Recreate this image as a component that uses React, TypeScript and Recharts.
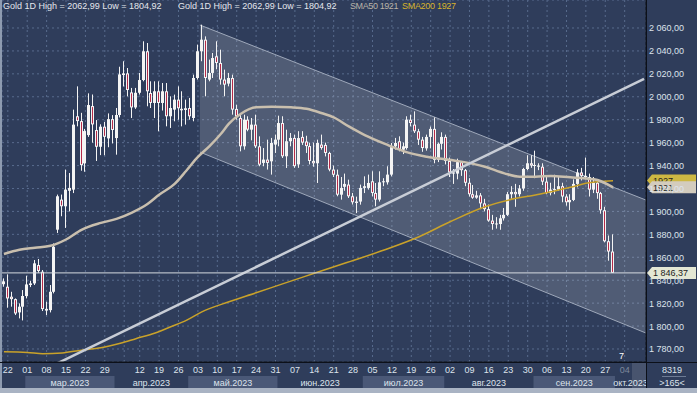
import React from "react";
import {
  ComposedChart,
  Bar,
  Line,
  XAxis,
  YAxis,
  CartesianGrid,
  ReferenceLine,
  ReferenceArea,
} from "recharts";

// ---- canvas ----
const W = 697;
const H = 393;
const FONT = "'Liberation Sans', Arial, sans-serif";
const BG = "#2f3d5b";
const GRID = "#586b8d";
const TEXT = "#dde3ec";
const AXIS_LINE = "#0c1019";
const UP = "#f4f4f4";
const DOWN = "#b52a48";

// ---- calendar ----
const FIRST_DAY = "2023-02-21";
const LAST_TRADED = "2023-09-29";
const AXIS_END = "2023-10-11";
const HOLIDAYS = ["2023-04-07"];
const LAST_DAY_TICK = "2023-10-04";
const HIDDEN_DAY_LABELS = ["2023-04-05"];
const MONTH_LABELS = ["мар.2023", "апр.2023", "май.2023", "июн.2023", "июл.2023", "авг.2023", "сен.2023", "окт.2023"];
const MONTH_SHADED = [true, false, true, false, true, false, true, false];

// ---- prices (one line per week) ----
const OPEN = [
  1836.5, 1834.3, 1825.6, 1823.5,
  1811.9, 1816.9, 1826.2, 1835.8, 1837.2,
  1853.2, 1847.4, 1815.0, 1813.9, 1829.9,
  1884.1, 1910.3, 1904.5, 1918.0, 1919.0,
  1983.0, 1978.8, 1941.9, 1966.6, 1991.9,
  1971.0, 1956.4, 1973.9, 1963.7, 1980.5,
  1964.0, 1984.1, 2019.0, 2020.4,
  2003.8, 1990.7, 2003.5, 2014.6, 2039.7,
  2003.3, 1994.6, 2004.8, 1994.6, 2004.8,
  1983.0, 1988.8, 1997.5, 1989.5, 1990.0,
  1990.2, 1981.5, 2016.4, 2039.7, 2049.8,
  2015.0, 2020.8, 2035.3, 2029.5, 2015.0,
  2011.5, 2016.4, 1989.4, 1981.5, 1956.8,
  1980.0, 1971.3, 1975.7, 1956.8, 1942.3,
  1945.2, 1943.7, 1958.3, 1962.6, 1977.1,
  1948.1, 1961.2, 1964.1, 1941.0, 1965.0,
  1961.0, 1957.0, 1944.0, 1942.0, 1958.3,
  1958.0, 1951.0, 1936.5, 1932.0, 1914.6,
  1921.5, 1923.4, 1913.2, 1908.6, 1908.6,
  1920.5, 1920.5, 1926.3, 1916.1, 1910.3,
  1925.4, 1925.4, 1932.1, 1956.8, 1961.2,
  1953.9, 1955.3, 1980.0, 1975.7, 1969.9,
  1962.6, 1955.0, 1965.0, 1972.0, 1945.0,
  1959.0, 1965.0, 1944.0, 1934.0, 1933.0,
  1943.0, 1936.0, 1925.0, 1915.0, 1912.0,
  1914.0, 1907.0, 1902.0, 1892.0, 1889.0,
  1889.0, 1894.0, 1897.0, 1915.0, 1917.0,
  1915.0, 1920.0, 1937.0, 1942.0, 1940.0,
  1940.0, 1939.0, 1926.0, 1916.0, 1919.0,
  1919.0, 1922.0, 1913.0, 1908.0, 1910.0,
  1924.0, 1934.0, 1931.0, 1930.0, 1919.0,
  1925.0, 1916.0, 1901.0, 1874.0, 1865.0,
];
const HIGH = [
  1841.6, 1845.1, 1829.9, 1824.1,
  1819.8, 1831.4, 1843.9, 1839.5, 1857.6,
  1858.5, 1848.9, 1821.2, 1835.8, 1872.1,
  1914.7, 1914.7, 1936.5, 1933.5, 1988.8,
  2009.1, 1986.0, 1972.0, 2003.0, 2002.0,
  1979.7, 1976.0, 1978.0, 1985.5, 1984.0,
  1990.2, 2026.2, 2031.0, 2025.1,
  2007.7, 2007.7, 2020.8, 2048.4, 2046.9,
  2013.5, 2013.5, 2013.5, 2012.0, 2012.0,
  2000.4, 2001.9, 2009.1, 2004.8, 1997.5,
  1999.0, 2019.3, 2045.5, 2062.9, 2052.7,
  2032.4, 2038.2, 2048.4, 2041.1, 2023.7,
  2020.8, 2019.3, 1993.1, 1984.4, 1984.4,
  1983.0, 1981.5, 1984.4, 1965.5, 1955.3,
  1962.6, 1964.1, 1967.0, 1983.5, 1983.0,
  1971.3, 1968.4, 1967.0, 1970.0, 1970.0,
  1966.0, 1960.0, 1960.0, 1962.6, 1967.0,
  1960.0, 1952.0, 1940.0, 1936.5, 1930.0,
  1933.0, 1927.7, 1916.1, 1912.9, 1923.4,
  1930.6, 1932.1, 1935.0, 1924.8, 1935.0,
  1929.0, 1939.4, 1959.7, 1964.1, 1965.5,
  1960.0, 1983.0, 1984.4, 1987.3, 1972.0,
  1965.0, 1967.0, 1974.0, 1982.0, 1960.0,
  1969.0, 1967.0, 1947.0, 1937.0, 1946.0,
  1944.0, 1937.0, 1929.0, 1923.0, 1918.0,
  1916.0, 1911.0, 1906.0, 1897.0, 1895.0,
  1897.0, 1903.0, 1917.0, 1922.0, 1924.0,
  1923.0, 1938.0, 1949.0, 1949.0, 1953.0,
  1942.0, 1942.0, 1930.0, 1925.0, 1932.0,
  1930.0, 1925.0, 1915.0, 1915.0, 1928.0,
  1937.0, 1938.0, 1947.0, 1933.0, 1930.0,
  1926.0, 1917.0, 1904.0, 1879.0, 1880.0,
];
const LOW = [
  1834.3, 1816.0, 1816.9, 1809.6,
  1806.7, 1804.9, 1824.1, 1834.0, 1835.8,
  1846.5, 1813.1, 1809.6, 1811.9, 1828.5,
  1881.2, 1895.8, 1885.6, 1900.0, 1916.0,
  1974.2, 1935.5, 1934.6, 1965.0, 1960.0,
  1944.0, 1949.1, 1949.0, 1956.0, 1959.3,
  1949.5, 1982.0, 2009.0, 2000.4,
  1981.5, 1989.4, 2001.9, 2013.5, 1991.7,
  1990.2, 1981.5, 1969.9, 1988.0, 1974.2,
  1972.8, 1978.6, 1980.0, 1974.2, 1975.7,
  1980.0, 1978.6, 2015.0, 2031.0, 2000.4,
  2013.5, 2016.4, 2024.0, 2010.6, 2000.4,
  2009.1, 1984.4, 1980.0, 1952.4, 1953.9,
  1969.9, 1962.0, 1955.3, 1939.4, 1939.4,
  1936.5, 1932.1, 1951.0, 1956.8, 1946.6,
  1937.9, 1956.8, 1938.0, 1938.0, 1958.0,
  1951.0, 1941.0, 1939.0, 1924.8, 1953.9,
  1948.0, 1935.0, 1930.0, 1913.2, 1910.3,
  1918.0, 1911.7, 1906.0, 1898.5, 1905.9,
  1916.0, 1919.0, 1913.2, 1904.5, 1908.6,
  1922.0, 1923.4, 1930.6, 1953.9, 1952.4,
  1950.0, 1953.9, 1974.2, 1968.4, 1958.0,
  1952.0, 1953.0, 1955.0, 1942.0, 1943.0,
  1954.0, 1941.0, 1930.0, 1924.0, 1928.0,
  1931.0, 1922.0, 1913.0, 1911.0, 1911.0,
  1902.0, 1900.0, 1891.0, 1884.0, 1885.0,
  1884.0, 1892.0, 1896.0, 1911.0, 1904.0,
  1913.0, 1918.0, 1936.0, 1938.0, 1929.0,
  1936.0, 1923.0, 1915.0, 1914.0, 1915.0,
  1918.0, 1908.0, 1905.0, 1901.0, 1909.0,
  1921.0, 1927.0, 1928.0, 1913.0, 1916.0,
  1911.0, 1898.0, 1873.0, 1857.0, 1846.4,
];
const CLOSE = [
  1839.0, 1824.1, 1823.5, 1811.0,
  1816.9, 1826.2, 1836.3, 1837.2, 1854.7,
  1848.0, 1814.8, 1813.5, 1829.9, 1869.2,
  1913.2, 1904.5, 1919.0, 1920.5, 1975.7,
  1978.8, 1940.4, 1970.1, 1992.8, 1975.9,
  1956.4, 1973.9, 1965.1, 1980.5, 1971.0,
  1984.1, 2019.5, 2020.4, 2005.9,
  1990.7, 2003.5, 2014.6, 2039.7, 2004.8,
  1994.6, 2004.8, 1994.6, 2004.8, 1983.0,
  1990.2, 1997.5, 1990.0, 1988.2, 1988.5,
  1983.0, 2016.4, 2039.7, 2049.8, 2016.4,
  2020.8, 2033.8, 2029.5, 2015.0, 2010.6,
  2016.4, 1988.8, 1983.0, 1956.8, 1980.0,
  1971.3, 1975.7, 1956.8, 1940.8, 1945.2,
  1942.3, 1959.7, 1962.6, 1977.1, 1948.1,
  1961.2, 1964.1, 1939.5, 1964.0, 1960.0,
  1957.0, 1944.0, 1942.0, 1959.7, 1955.4,
  1951.0, 1936.5, 1932.0, 1914.6, 1920.5,
  1924.0, 1913.2, 1908.0, 1907.4, 1920.5,
  1922.0, 1924.8, 1916.1, 1910.3, 1925.4,
  1926.3, 1932.1, 1956.8, 1959.7, 1953.9,
  1956.8, 1980.0, 1977.1, 1969.9, 1962.6,
  1955.3, 1965.0, 1972.0, 1945.0, 1959.0,
  1965.0, 1944.0, 1934.0, 1933.0, 1943.0,
  1936.0, 1925.0, 1915.0, 1912.0, 1914.0,
  1907.0, 1902.0, 1892.0, 1889.0, 1889.5,
  1894.0, 1897.0, 1915.0, 1917.0, 1915.0,
  1920.0, 1937.0, 1942.0, 1940.0, 1940.5,
  1939.0, 1926.0, 1916.0, 1919.0, 1919.5,
  1922.0, 1913.0, 1908.0, 1910.0, 1924.0,
  1934.0, 1931.0, 1930.0, 1919.0, 1925.0,
  1916.0, 1901.0, 1874.0, 1865.0, 1846.4,
];

// moving averages at these candle indices
const SMA50_AT = [0, 4, 8, 12, 16, 20, 25, 29, 33, 37, 40, 44, 47, 50, 53, 56, 58, 61, 65, 69, 74, 78, 82, 85, 89, 93, 99, 104, 109, 116, 124, 129, 133, 137, 141, 146, 150, 153, 157];
const SMA50 = [1862.9, 1866.5, 1868.3, 1870, 1875.5, 1884, 1890, 1893.5, 1899, 1906.5, 1914.5, 1924, 1935.5, 1947.5, 1957, 1968, 1976.6, 1985, 1990.8, 1991.3, 1990.8, 1989.5, 1985.6, 1982, 1973.9, 1966.6, 1957.9, 1951.5, 1947.7, 1944.5, 1939, 1933.2, 1930.3, 1930.3, 1930.9, 1929.7, 1928.8, 1927.4, 1921];
const SMA200_AT = [0, 6, 10, 15, 20, 25, 30, 34, 39, 43, 47, 51, 58, 65, 72, 80, 88, 98, 107, 115, 124, 132, 137, 141, 146, 150, 157];
const SMA200 = [1777.5, 1777, 1775.8, 1776.5, 1779, 1781, 1785, 1789, 1794, 1799.4, 1805, 1812.4, 1821.2, 1829, 1837, 1846, 1855, 1866.3, 1877.9, 1891, 1904.1, 1911.4, 1914.3, 1917.2, 1921, 1924.5, 1926.8];

const LAST_PRICE = 1846.37;
const SMA50_LAST = 1921;
const SMA200_LAST = 1927;

// drawn channel (from the May 4 top to the right edge)
const CH_START = 51;
const CH_TOP_LEFT = 2062.6;
const CH_TOP_RIGHT = 1909.9;
const CH_BOTTOM_LEFT = 1951.8;
const CH_BOTTOM_RIGHT = 1793.9;
// drawn rising trend line
const TREND_FROM = { i: 10, price: 1761.3 };
const TREND_TO = { i: 165, price: 2015.6 };

const Y_MIN = 1768.65;
const Y_MAX = 2084.42;
const PRICE_TICKS = [1780, 1800, 1820, 1840, 1860, 1880, 1900, 1920, 1940, 1960, 1980, 2000, 2020, 2040, 2060];

function buildDays(): string[] {
  const out: string[] = [];
  const d = new Date(FIRST_DAY + "T00:00:00Z");
  const end = new Date(AXIS_END + "T00:00:00Z").getTime();
  while (d.getTime() <= end) {
    const wd = d.getUTCDay();
    const key = d.toISOString().slice(0, 10);
    if (wd !== 0 && wd !== 6 && !HOLIDAYS.includes(key)) out.push(key);
    d.setUTCDate(d.getUTCDate() + 1);
  }
  return out;
}

const DAYS = buildDays();
const PLOT_W = W - 2 - 51;
const BAND = PLOT_W / DAYS.length;

const rows = DAYS.map((d, i) => {
  const row: any = { d };
  if (d <= LAST_TRADED && i < OPEN.length) {
    row.open = OPEN[i];
    row.high = HIGH[i];
    row.low = LOW[i];
    row.close = CLOSE[i];
    row.range = [LOW[i], HIGH[i]];
  }
  const a = SMA50_AT.indexOf(i);
  if (a >= 0) row.sma50 = SMA50[a];
  const b = SMA200_AT.indexOf(i);
  if (b >= 0) row.sma200 = SMA200[b];
  return row;
});

const dayTicks = DAYS.filter(
  (d) => new Date(d + "T00:00:00Z").getUTCDay() === 3 && d <= LAST_DAY_TICK
);

const monthStarts: { key: string; label: string; shaded: boolean; count: number }[] = [];
for (let m = 3; m <= 10; m++) {
  const mm = String(m).padStart(2, "0");
  const inMonth = DAYS.filter((d) => d.slice(5, 7) === mm);
  if (inMonth.length) {
    monthStarts.push({
      key: inMonth[0],
      label: MONTH_LABELS[m - 3],
      shaded: MONTH_SHADED[m - 3],
      count: inMonth.length,
    });
  }
}
const monthTicks = monthStarts.map((m) => m.key);

// "2 060,00" with a non-breaking space so the label stays on one line
const fmtAxis = (v: number) => {
  const th = Math.floor(v / 1000);
  const rest = String(Math.round(v % 1000)).padStart(3, "0");
  return `${th}\u00a0${rest},00`;
};

const PriceAxisTick = (props: any) => {
  const { x, y, payload } = props;
  return (
    <text x={x} y={y + 3.5} fontSize={9} fill={TEXT} textAnchor="start">
      {fmtAxis(payload.value)}
    </text>
  );
};

const Candle = (props: any) => {
  const { x, y, width, height, payload } = props;
  if (!payload || payload.open == null) return null;
  const { open, close, high, low } = payload;
  const top = Math.min(y, y + height);
  const h = Math.abs(height);
  const span = high - low || 1;
  const toY = (v: number) => top + ((high - v) / span) * h;
  const px = Math.round(x + width / 2 - 1.5);
  const bTop = toY(Math.max(open, close));
  const bBot = toY(Math.min(open, close));
  const bh = Math.max(bBot - bTop, 1);
  const up = close >= open;
  return (
    <g>
      <line x1={px + 1.5} x2={px + 1.5} y1={top} y2={top + h} stroke={UP} strokeWidth={1} />
      <rect x={px} y={bTop} width={3} height={bh} fill={UP} />
      {!up && bh > 2 && (
        <rect x={px + 1} y={bTop + 1} width={1} height={bh - 2} fill={DOWN} />
      )}
    </g>
  );
};

const ChannelShape = (p: any) => {
  const { x, y, width, height } = p;
  if (x == null) return null;
  const span = CH_TOP_LEFT - CH_BOTTOM_RIGHT;
  const yTR = y + (height * (CH_TOP_LEFT - CH_TOP_RIGHT)) / span;
  const yBL = y + (height * (CH_TOP_LEFT - CH_BOTTOM_LEFT)) / span;
  return (
    <g>
      <polygon
        points={`${x},${y} ${x + width},${yTR} ${x + width},${y + height} ${x},${yBL}`}
        fill="#ffffff"
        fillOpacity={0.16}
      />
      <line x1={x} y1={y} x2={x + width} y2={yTR} stroke="#9ea8ba" strokeWidth={1} />
      <line x1={x} y1={yBL} x2={x + width} y2={y + height} stroke="#9ea8ba" strokeWidth={1} />
    </g>
  );
};

const DayTick = (props: any) => {
  const { x, y, payload } = props;
  const key: string = payload.value;
  if (HIDDEN_DAY_LABELS.includes(key)) return <g />;
  const future = key > LAST_TRADED;
  return (
    <text x={x} y={y + 11} textAnchor="middle" fontSize={9} fill={future ? "#7d889c" : TEXT}>
      {key.slice(8)}
    </text>
  );
};

const MonthTick = (props: any) => {
  const { x, y, payload } = props;
  const m = monthStarts.find((s) => s.key === payload.value);
  if (!m) return <g />;
  const left = x - BAND / 2;
  const w = m.count * BAND;
  return (
    <g>
      {m.shaded && <rect x={left} y={y + 1} width={w} height={13} fill="#4a5877" />}
      <text x={left + w / 2} y={y + 11} textAnchor="middle" fontSize={9} fill={TEXT}>
        {m.label}
      </text>
    </g>
  );
};

const priceTag = (text: string, fill: string, w: number) => (props: any) => {
  const vb = props.viewBox;
  if (!vb) return null;
  const px = vb.x + vb.width + 1;
  const cy = vb.y;
  return (
    <g>
      <polygon
        points={`${px},${cy} ${px + 5},${cy - 6} ${px + w},${cy - 6} ${px + w},${cy + 6} ${px + 5},${cy + 6}`}
        fill={fill}
      />
      <text x={px + 6} y={cy + 3.5} fontSize={9} fill="#1c1c1c">
        {text}
      </text>
    </g>
  );
};

const abs = (s: React.CSSProperties): React.CSSProperties => ({ position: "absolute", ...s });

export default function App() {
  return (
    <div
      style={abs({
        left: 0,
        top: 0,
        width: W,
        height: H,
        background: BG,
        fontFamily: FONT,
        overflow: "hidden",
      })}
    >
      <ComposedChart width={W} height={H} data={rows} margin={{ top: 0, right: 0, bottom: 5, left: 2 }}>
        <CartesianGrid stroke={GRID} strokeDasharray="2 3" />
        <XAxis
          dataKey="d"
          ticks={dayTicks}
          interval={0}
          tick={<DayTick />}
          tickSize={0}
          tickMargin={0}
          height={13}
          axisLine={{ stroke: AXIS_LINE }}
          tickLine={false}
        />
        <XAxis
          xAxisId={1}
          dataKey="d"
          ticks={monthTicks}
          interval={0}
          tick={<MonthTick />}
          tickSize={0}
          tickMargin={0}
          height={13}
          axisLine={false}
          tickLine={false}
        />
        <YAxis
          orientation="right"
          width={51}
          domain={[Y_MIN, Y_MAX]}
          ticks={PRICE_TICKS}
          interval={0}
          allowDataOverflow
          tick={<PriceAxisTick />}
          tickSize={0}
          tickMargin={3}
          axisLine={{ stroke: AXIS_LINE }}
          tickLine={false}
        />
        <ReferenceArea
          x1={DAYS[CH_START]}
          x2={DAYS[DAYS.length - 1]}
          y1={CH_BOTTOM_RIGHT}
          y2={CH_TOP_LEFT}
          shape={<ChannelShape />}
        />
        <Line
          dataKey="sma200"
          type="monotone"
          stroke="#c9a22a"
          strokeWidth={1.5}
          dot={false}
          connectNulls
          isAnimationActive={false}
        />
        <Line
          dataKey="sma50"
          type="monotone"
          stroke="#c9bfae"
          strokeWidth={2.5}
          dot={false}
          connectNulls
          isAnimationActive={false}
        />
        <ReferenceLine
          segment={[
            { x: DAYS[TREND_FROM.i], y: TREND_FROM.price },
            { x: DAYS[TREND_TO.i], y: TREND_TO.price },
          ]}
          stroke="#c8cdd6"
          strokeWidth={2.5}
          ifOverflow="hidden"
        />
        <ReferenceLine y={LAST_PRICE} stroke="#d6dae0" strokeWidth={1} />
        <Bar dataKey="range" barSize={3} shape={<Candle />} isAnimationActive={false} />
        <ReferenceLine y={SMA200_LAST} stroke="none" label={priceTag(String(SMA200_LAST), "#cdb843", 49)} />
        <ReferenceLine y={SMA50_LAST} stroke="none" label={priceTag(String(SMA50_LAST), "#d3ccbe", 49)} />
        <ReferenceLine
          y={LAST_PRICE}
          stroke="none"
          label={priceTag(LAST_PRICE.toFixed(2).replace(".", ",").replace(/^1/, "1 "), "#e4e7d4", 49)}
        />
      </ComposedChart>

      {/* frame pieces */}
      <div style={abs({ left: 0, top: 0, width: 2, height: H, background: "#8e9bb0" })} />
      <div style={abs({ left: 0, top: 388, width: W, height: 5, background: "#a9b3c3" })} />
      <div style={abs({ left: 647, top: 363, width: 50, height: 25, background: BG })} />
      <div style={abs({ left: 0, top: 362, width: W, height: 1, background: AXIS_LINE })} />
      <div style={abs({ left: 646, top: 0, width: 1, height: 388, background: AXIS_LINE })} />
      <div style={abs({ left: 632, top: 363, width: 14, height: 25, background: "rgba(255,255,255,0.12)" })} />

      {/* corner counters */}
      <div style={abs({ left: 647, top: 365, width: 50, textAlign: "center", fontSize: 9, color: TEXT })}>8319</div>
      <div style={abs({ left: 662, top: 376, width: 24, height: 1, background: "#6d7b94" })} />
      <div style={abs({ left: 647, top: 378, width: 50, textAlign: "center", fontSize: 9, color: TEXT })}>&gt;165&lt;</div>
      <div style={abs({ left: 619, top: 351, fontSize: 9, color: "#ffffff" })}>7</div>

      {/* legend */}
      <div style={abs({ left: 3, top: 1, fontSize: 9, color: "#e3e6ec", whiteSpace: "nowrap" })}>
        Gold 1D High = 2062,99 Low = 1804,92
      </div>
      <div style={abs({ left: 178, top: 1, fontSize: 9, color: "#e3e6ec", whiteSpace: "nowrap" })}>
        Gold 1D High = 2062,99 Low = 1804,92
      </div>
      <div style={abs({ left: 350, top: 1, fontSize: 9, letterSpacing: -0.4, color: "#b9b3a8", whiteSpace: "nowrap" })}>
        SMA50 {SMA50_LAST}
      </div>
      <div style={abs({ left: 402, top: 1, fontSize: 9, letterSpacing: -0.3, color: "#d7b32c", whiteSpace: "nowrap" })}>
        SMA200 {SMA200_LAST}
      </div>
    </div>
  );
}
